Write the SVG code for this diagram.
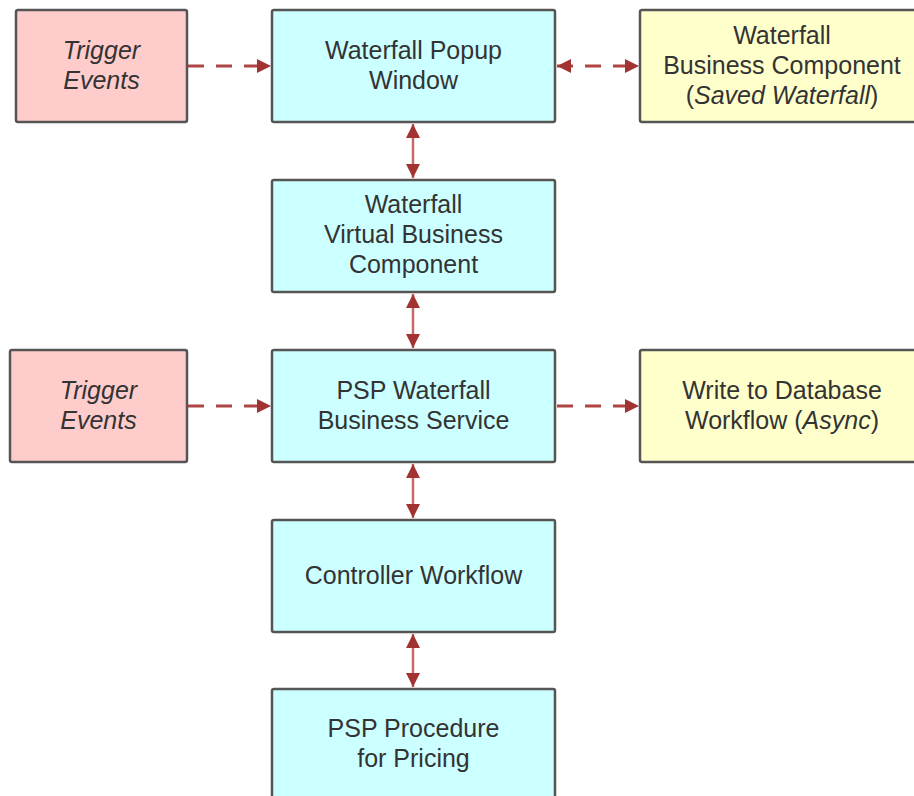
<svg xmlns="http://www.w3.org/2000/svg" width="914" height="796" viewBox="0 0 914 796">
<style>
.box{stroke:#555;stroke-width:2.5}
.pink{fill:#FFCCCC}
.cyan{fill:#CCFFFF}
.yellow{fill:#FFFFCC}
text{font-family:"Liberation Sans",Arial,sans-serif;font-size:25px;fill:#333;text-anchor:middle}
.it{font-style:italic}
.dash{stroke:#B04545;stroke-width:3;stroke-dasharray:16 12;fill:none}
.solid{stroke:#C46A6A;stroke-width:2.5;fill:none}
</style>
<defs>
<marker id="ah" markerUnits="userSpaceOnUse" markerWidth="14" markerHeight="14" refX="14" refY="7" orient="auto-start-reverse" viewBox="0 0 14 14">
<path d="M0,0 L14,7 L0,14 z" fill="#A33333"/>
</marker>
</defs>
<g id="connectors">
<line class="dash" x1="188" y1="66" x2="271" y2="66" marker-end="url(#ah)"/>
<line class="dash" x1="557" y1="66" x2="639" y2="66" marker-start="url(#ah)" marker-end="url(#ah)"/>
<line class="dash" x1="188" y1="406" x2="271" y2="406" marker-end="url(#ah)"/>
<line class="dash" x1="557" y1="406" x2="639" y2="406" marker-end="url(#ah)"/>
<line class="solid" x1="413" y1="124" x2="413" y2="178" marker-start="url(#ah)" marker-end="url(#ah)"/>
<line class="solid" x1="413" y1="294" x2="413" y2="348" marker-start="url(#ah)" marker-end="url(#ah)"/>
<line class="solid" x1="413" y1="464" x2="413" y2="518" marker-start="url(#ah)" marker-end="url(#ah)"/>
<line class="solid" x1="413" y1="634" x2="413" y2="687" marker-start="url(#ah)" marker-end="url(#ah)"/>
</g>
<g id="trigger1">
<rect class="box pink" x="16" y="10" width="171" height="112" rx="2"/>
<text class="it" x="101.5" y="59">Trigger</text>
<text class="it" x="101.5" y="89">Events</text>
</g>
<g id="popup">
<rect class="box cyan" x="272" y="10" width="283" height="112" rx="2"/>
<text x="413.5" y="59">Waterfall Popup</text>
<text x="413.5" y="89">Window</text>
</g>
<g id="savedwf">
<rect class="box yellow" x="640" y="10" width="286" height="112" rx="2"/>
<text x="782" y="44">Waterfall</text>
<text x="782" y="74">Business Component</text>
<text x="782" y="104">(<tspan class="it">Saved Waterfall</tspan>)</text>
</g>
<g id="vbc">
<rect class="box cyan" x="272" y="180" width="283" height="112" rx="2"/>
<text x="413.5" y="213">Waterfall</text>
<text x="413.5" y="243">Virtual Business</text>
<text x="413.5" y="273">Component</text>
</g>
<g id="trigger2">
<rect class="box pink" x="10" y="350" width="177" height="112" rx="2"/>
<text class="it" x="98.5" y="399">Trigger</text>
<text class="it" x="98.5" y="429">Events</text>
</g>
<g id="pspwbs">
<rect class="box cyan" x="272" y="350" width="283" height="112" rx="2"/>
<text x="413.5" y="399">PSP Waterfall</text>
<text x="413.5" y="429">Business Service</text>
</g>
<g id="writedb">
<rect class="box yellow" x="640" y="350" width="286" height="112" rx="2"/>
<text x="782" y="399">Write to Database</text>
<text x="782" y="429">Workflow (<tspan class="it">Async</tspan>)</text>
</g>
<g id="controller">
<rect class="box cyan" x="272" y="520" width="283" height="112" rx="2"/>
<text x="413.5" y="584">Controller Workflow</text>
</g>
<g id="pspproc">
<rect class="box cyan" x="272" y="689" width="283" height="114" rx="2"/>
<text x="413.5" y="737">PSP Procedure</text>
<text x="413.5" y="767">for Pricing</text>
</g>
</svg>
